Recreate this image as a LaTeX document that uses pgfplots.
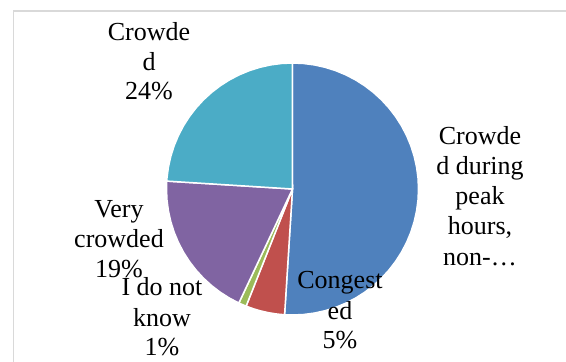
\documentclass[border=0pt]{standalone}
\usepackage{pgfplots}
\pgfplotsset{compat=1.18}
\usepgfplotslibrary{polar}
\usepackage{fontspec}
\setmainfont{Liberation Serif}
\definecolor{cblue}{HTML}{4F81BD}
\definecolor{cred}{HTML}{C0504D}
\definecolor{cgreen}{HTML}{9BBB59}
\definecolor{cpurple}{HTML}{8064A2}
\definecolor{cteal}{HTML}{4BACC6}
\definecolor{frame}{HTML}{D9D9D9}
\begin{document}
\begin{tikzpicture}
\useasboundingbox (0,0) rectangle (566pt,362pt);
\fill[white] (0,0) rectangle (566pt,362pt);
\draw[frame, line width=1.2pt] (13.5pt,-2pt) -- (13.5pt,351pt) -- (570pt,351pt);
% Shares: Crowded during peak hours 51, Congested 5, I do not know 1, Very crowded 19, Crowded 24
\begin{polaraxis}[hide axis, scale only axis, width=252pt, height=252pt,
  ymin=0, ymax=1, at={(292.5pt,173pt)}, anchor=center, clip=false]
% 51% : 90 -> -93.6
\addplot[fill=cblue, draw=white, line width=1.5pt, mark=none] coordinates {
(0,0) (90,1) (85,1) (80,1) (75,1) (70,1) (65,1) (60,1) (55,1) (50,1) (45,1) (40,1)
(35,1) (30,1) (25,1) (20,1) (15,1) (10,1) (5,1) (0,1) (-5,1) (-10,1) (-15,1) (-20,1)
(-25,1) (-30,1) (-35,1) (-40,1) (-45,1) (-50,1) (-55,1) (-60,1) (-65,1) (-70,1)
(-75,1) (-80,1) (-85,1) (-90,1) (-93.6,1)} -- cycle;
% 5% : -93.6 -> -111.6
\addplot[fill=cred, draw=white, line width=1.5pt, mark=none] coordinates {
(0,0) (-93.6,1) (-97,1) (-101,1) (-105,1) (-108,1) (-111.6,1)} -- cycle;
% 1% : -111.6 -> -115.2
\addplot[fill=cgreen, draw=white, line width=1.5pt, mark=none] coordinates {
(0,0) (-111.6,1) (-113.4,1) (-115.2,1)} -- cycle;
% 19% : -115.2 -> -183.6
\addplot[fill=cpurple, draw=white, line width=1.5pt, mark=none] coordinates {
(0,0) (-115.2,1) (-120,1) (-125,1) (-130,1) (-135,1) (-140,1) (-145,1) (-150,1)
(-155,1) (-160,1) (-165,1) (-170,1) (-175,1) (-180,1) (-183.6,1)} -- cycle;
% 24% : -183.6 -> -270
\addplot[fill=cteal, draw=white, line width=1.5pt, mark=none] coordinates {
(0,0) (-183.6,1) (-185,1) (-190,1) (-195,1) (-200,1) (-205,1) (-210,1) (-215,1)
(-220,1) (-225,1) (-230,1) (-235,1) (-240,1) (-245,1) (-250,1) (-255,1) (-260,1)
(-265,1) (-270,1)} -- cycle;
\end{polaraxis}
\begin{scope}[every node/.style={anchor=base, inner sep=0pt, font=\fontsize{26}{30}\selectfont}]
\node at (149pt,321.3pt) {Crowde};
\node at (149pt,291pt) {d};
\node at (149pt,262pt) {24\%};
\node at (480pt,217pt) {Crowde};
\node at (480pt,187pt) {d during};
\node at (480pt,157pt) {peak};
\node at (480pt,127pt) {hours,};
\node at (480pt,96pt) {non-…};
\node at (119pt,144.3pt) {Very};
\node at (119pt,114.3pt) {crowded};
\node at (119pt,84.3pt) {19\%};
\node at (162pt,66.3pt) {I do not};
\node at (162pt,35.3pt) {know};
\node at (162pt,6pt) {1\%};
\node at (340pt,73pt) {Congest};
\node at (340pt,42pt) {ed};
\node at (340pt,13pt) {5\%};
\end{scope}
\end{tikzpicture}
\end{document}
